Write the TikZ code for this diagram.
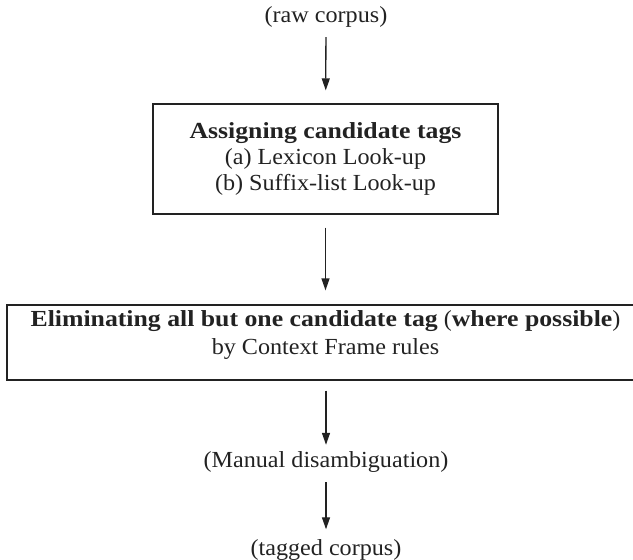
\documentclass[tikz,border=0pt]{standalone}
\usepackage{fontspec}
\setmainfont{Liberation Serif}[FakeStretch=1.05, BoldFeatures={FakeStretch=1.12}]
\usetikzlibrary{arrows.meta}
\definecolor{ink}{HTML}{222222}
\tikzset{
  txt/.style={inner sep=0pt, text height=16pt, text depth=5pt, text=ink, font=\fontsize{23}{26}\selectfont},
  boxnode/.style={draw=ink, line width=1.3pt, inner sep=0pt, text=ink, align=center, font=\fontsize{23}{26}\selectfont},
  arr/.style={draw=ink, line width=1.3pt, -{Triangle[length=12pt,width=8pt]}}
}
\begin{document}
\begin{tikzpicture}[x=1pt,y=-1pt]
\useasboundingbox (0,0) rectangle (633,560);
\clip (0,0) rectangle (633,560);
\node[txt] (raw) at (326,17) {(raw corpus)};
\node[boxnode, minimum width=345pt, minimum height=110pt] (b1) at (325.5,159)
  {\textbf{Assigning candidate tags}\\(a) Lexicon Look-up\\(b) Suffix-list Look-up};
\node[boxnode, minimum width=637pt, minimum height=75pt] (b2) at (325.5,342.5) {};
\node[txt, align=center, text height=, text depth=, anchor=north, font=\fontsize{23}{28.5}\selectfont] (b2t) at (325.5,310)
  {\textbf{Eliminating all but one candidate tag} (\textbf{where possible})\\by Context Frame rules};
\node[txt] (man) at (326,462) {(Manual disambiguation)};
\node[txt] (tag) at (326,550) {(tagged corpus)};
\draw[arr, shorten <=9.5pt, shorten >=13pt] (raw) -- (b1);
\draw[arr, shorten <=13pt, shorten >=14pt] (b1) -- (b2);
\draw[arr, shorten <=10pt, shorten >=6.5pt] (b2.south -| man) -- (man);
\draw[arr, shorten <=9.5pt, shorten >=10pt] (man) -- (tag);
\end{tikzpicture}
\end{document}
